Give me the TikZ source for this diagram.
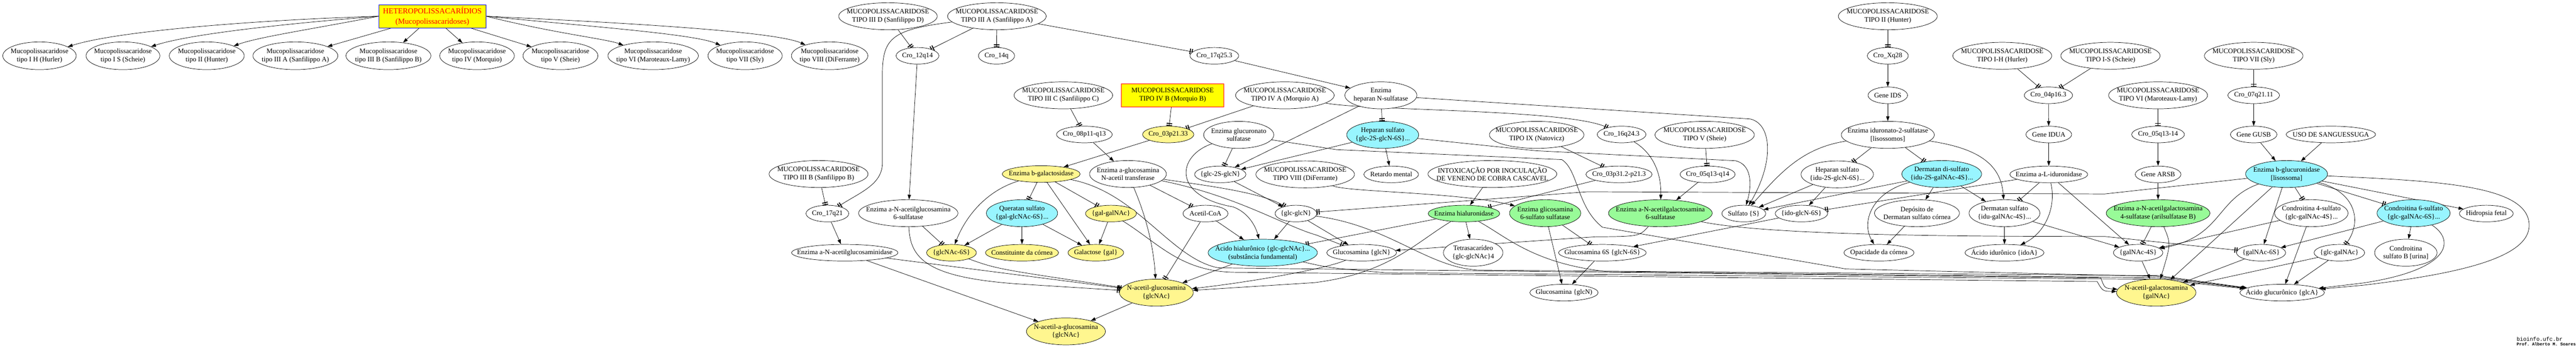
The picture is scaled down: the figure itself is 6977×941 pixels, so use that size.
\documentclass[tikz,border=0pt]{standalone}
\usepackage{fontspec}
\setmainfont{Liberation Serif}
\setmonofont{Liberation Mono}
\usepackage{tikz}
\usetikzlibrary{shapes.geometric,arrows.meta,backgrounds}
\definecolor{boxyellow}{RGB}{255,255,0}
\definecolor{molyellow}{RGB}{255,246,143}
\definecolor{molcyan}{RGB}{152,245,255}
\definecolor{molgreen}{RGB}{152,251,152}
\tikzstyle{gv node}=[ellipse,draw,line width=1pt,fill=white,inner xsep=-60pt,inner ysep=-12pt,minimum height=45pt,align=center,font=\fontsize{18.5}{22}\selectfont]
\tikzstyle{two lines}=[minimum height=73pt]
\tikzstyle{product node}=[fill=molyellow]
\tikzstyle{substrate node}=[fill=molcyan]
\tikzstyle{enzyme node}=[fill=molgreen]
\tikzstyle{title node}=[rectangle,draw=blue,fill=boxyellow,text=red,minimum height=63pt,font=\fontsize{21}{27}\selectfont]
\tikzstyle{morquio node}=[rectangle,draw=red,fill=boxyellow,minimum height=62pt]
\tikzstyle{gives edge}=[-{Triangle[length=13pt,width=9pt]},line width=1pt]
\tikzstyle{acts edge}=[-{Bar[width=15pt,line width=2.5pt,sep=3pt]Bar[width=15pt,line width=2.5pt]},line width=1pt]
\newcommand{\gvnode}[5][]{
  \node [gv node, anchor=center, minimum width=#4pt, #1] (#2) at (#3) {#5}
}

\begin{document}
\begin{tikzpicture}[x=1pt,y=-1pt]
\useasboundingbox (0,0) rectangle (6977,941);
        \gvnode[title node]{hetero}{1171,44}{291}{HETEROPOLISSACARÍDIOS\\(Mucopolissacaridoses)};
        \gvnode[minimum height=75pt]{tIH}{107,151}{199}{Mucopolissacaridose\\tipo I H (Hurler)};
        \gvnode[minimum height=75pt]{tIS}{333,151}{200}{Mucopolissacaridose\\tipo I S (Scheie)};
        \gvnode[minimum height=75pt]{tII}{560,151}{203}{Mucopolissacaridose\\tipo II (Hunter)};
        \gvnode[minimum height=75pt]{tIIIA}{800,151}{230}{Mucopolissacaridose\\tipo III A (Sanfilippo A)};
        \gvnode[minimum height=75pt]{tIIIB}{1052,151}{230}{Mucopolissacaridose\\tipo III B (Sanfilippo B)};
        \gvnode[minimum height=75pt]{tIV}{1292,151}{202}{Mucopolissacaridose\\tipo IV (Morquio)};
        \gvnode[minimum height=75pt]{tV}{1518,151}{203}{Mucopolissacaridose\\tipo V (Sheie)};
        \gvnode[minimum height=75pt]{tVI}{1769,151}{245}{Mucopolissacaridose\\tipo VI (Maroteaux-Lamy)};
        \gvnode[minimum height=75pt]{tVII}{2018,151}{201}{Mucopolissacaridose\\tipo VII (Sly)};
        \gvnode[minimum height=75pt]{tVIII}{2247,151}{207}{Mucopolissacaridose\\tipo VIII (DiFerrante)};

        \gvnode[two lines]{m3d}{2405,44}{267}{MUCOPOLISSACARIDOSE\\TIPO III D (Sanfilippo D)};
        \gvnode[two lines]{m3a}{2700,44}{267}{MUCOPOLISSACARIDOSE\\TIPO III A (Sanfilippo A)};
        \gvnode[two lines]{m3b}{2217,471}{268}{MUCOPOLISSACARIDOSE\\TIPO III B (Sanfilippo B)};
        \gvnode[two lines]{m3c}{2880,258}{267}{MUCOPOLISSACARIDOSE\\TIPO III C (Sanfilippo C)};
        \gvnode[morquio node]{m4b}{3176,258}{278}{MUCOPOLISSACARIDOSE\\TIPO IV B (Morquio B)};
        \gvnode[two lines]{m4a}{3480,258}{267}{MUCOPOLISSACARIDOSE\\TIPO IV A (Morquio A)};
        \gvnode[two lines]{m8}{3535,472}{267}{MUCOPOLISSACARIDOSE\\TIPO VIII (DiFerrante)};
        \gvnode[two lines]{m9}{4162,365}{256}{MUCOPOLISSACARIDOSE\\TIPO IX (Natovicz)};
        \gvnode[two lines]{m5}{4617,365}{269}{MUCOPOLISSACARIDOSE\\TIPO V (Sheie)};
        \gvnode[two lines]{m2}{5113,44}{268}{MUCOPOLISSACARIDOSE\\TIPO II (Hunter)};
        \gvnode[two lines]{m1h}{5423,151}{268}{MUCOPOLISSACARIDOSE\\TIPO I-H (Hurler)};
        \gvnode[two lines]{m1s}{5716,151}{269}{MUCOPOLISSACARIDOSE\\TIPO I-S (Scheie)};
        \gvnode[two lines]{m6}{5845,258}{268}{MUCOPOLISSACARIDOSE\\TIPO VI (Maroteaux-Lamy)};
        \gvnode[two lines]{m7}{6104,151}{267}{MUCOPOLISSACARIDOSE\\TIPO VII (Sly)};

        \gvnode{c12q14}{2485,151}{116}{Cro\_12q14};
        \gvnode{c14q}{2699,151}{98}{Cro\_14q};
        \gvnode{c17q21}{2241,578}{116}{Cro\_17q21};
        \gvnode{c17q25}{3289,151}{132}{Cro\_17q25.3};
        \gvnode{c08p11}{2937,364}{151}{Cro\_08p11-q13};
        \gvnode[product node]{c03p21}{3164,364}{139}{Cro\_03p21.33};
        \gvnode{c16q24}{4392,364}{132}{Cro\_16q24.3};
        \gvnode{c03p31}{4385,472}{179}{Cro\_03p31.2-p21.3};
        \gvnode{c05q13a}{4625,472}{149}{Cro\_05q13-q14};
        \gvnode{cXq28}{5113,151}{111}{Cro\_Xq28};
        \gvnode{c04p16}{5548,258}{131}{Cro\_04p16.3};
        \gvnode{c05q13b}{5845,364}{143}{Cro\_05q13-14};
        \gvnode{c07q21}{6104,258}{140}{Cro\_07q21.11};

        \gvnode{gIDS}{5113,258}{107}{Gene IDS};
        \gvnode{gIDUA}{5549,364}{124}{Gene IDUA};
        \gvnode{gARSB}{5845,472}{124}{Gene ARSB};
        \gvnode{gGUSB}{6104,364}{126}{Gene GUSB};

        \gvnode[two lines]{eNAG6S}{2460,577}{269}{Enzima a-N-acetilglucosamina\\6-sulfatase};
        \gvnode{eNAGLU}{2288,684}{288}{Enzima a-N-acetilglucosaminidase};
        \gvnode[product node]{eBGAL}{2820,471}{211}{Enzima b-galactosidase};
        \gvnode[two lines]{eHGSNAT}{3055,471}{208}{Enzima a-glucosamina\\N-acetil transferase};
        \gvnode[two lines]{eGLCS}{3355,365}{190}{Enzima glucuronato\\sulfatase};
        \gvnode[two lines]{eSGSH}{3740,258}{195}{Enzima\\heparan N-sulfatase};
        \gvnode[enzyme node]{eHYAL}{3965,578}{194}{Enzima hialuronidase};
        \gvnode[two lines,enzyme node]{eG6S}{4185,577}{193}{Enzima glicosamina\\6-sulfato sulfatase};
        \gvnode[two lines,enzyme node]{eGALNS}{4497,577}{281}{Enzima a-N-acetilgalactosamina\\6-sulfatase};
        \gvnode[two lines]{eIDS}{5113,365}{252}{Enzima iduronato-2-sulfatase\\{[lisossomos]}};
        \gvnode{eIDUA}{5549,472}{211}{Enzima a-L-iduronidase};
        \gvnode[two lines,enzyme node]{eARSB}{5845,577}{281}{Enzima a-N-acetilgalactosamina\\4-sulfatase (arilsulfatase B)};
        \gvnode[two lines,substrate node]{eGUSB}{6193,471}{222}{Enzima b-glucuronidase\\{[lisossoma]}};

        \gvnode[two lines,substrate node]{sKS}{2768,577}{193}{Queratan sulfato\\\{gal-glcNAc-6S\}...};
        \gvnode[product node]{sGlcNAc6S}{2577,684}{135}{\{glcNAc-6S\}};
        \gvnode[product node]{sCornea}{2768,684}{198}{Constituinte da córnea};
        \gvnode[two lines,product node]{sNAaG}{2887,897}{214}{N-acetil-a-glucosamina\\\{glcNAc\}};
        \gvnode[product node]{sGalGalNAc}{3009,578}{138}{\{gal-galNAc\}};
        \gvnode[product node]{sGal}{2968,684}{151}{Galactose \{gal\}};
        \gvnode{sAcCoA}{3265,578}{122}{Acetil-CoA};
        \gvnode{sGlc2SGlcN}{3305,472}{139}{\{glc-2S-glcN\}};
        \gvnode{sGlcGlcN}{3510,578}{113}{\{glc-glcN\}};
        \gvnode[two lines,substrate node]{sHA}{3420,684}{296}{Ácido hialurônico \{glc-glcNAc\}...\\(substância fundamental)};
        \gvnode[two lines,product node]{sGlcNAc}{3132,792}{200}{N-acetil-glucosamina\\\{glcNAc\}};
        \gvnode[two lines,substrate node]{sHS1}{3745,365}{195}{Heparan sulfato\\\{glc-2S-glcN-6S\}...};
        \gvnode{sRetardo}{3768,472}{148}{Retardo mental};
        \gvnode[two lines]{sIntox}{4042,471}{349}{INTOXICAÇÃO POR INOCULAÇÃO\\DE VENENO DE COBRA CASCAVEL};
        \gvnode{sGlcN}{3688,684}{189}{Glucosamina \{glcN\}};
        \gvnode[two lines]{sTetra}{3990,684}{161}{Tetrasacarídeo\\\{glc-glcNAc\}4};
        \gvnode{sGlcN6S}{4340,684}{237}{Glucosamina 6S \{glcN-6S\}};
        \gvnode{sGlcN2}{4236,792}{185}{Glucosamina \{glcN)};
        \gvnode{sSulf}{4723,578}{119}{Sulfato \{S\}};
        \gvnode{sIdoGlcN6S}{4879,578}{142}{\{ido-glcN-6S\}};
        \gvnode[two lines]{sHS2}{4976,472}{196}{Heparan sulfato\\\{idu-2S-glcN-6S\}...};
        \gvnode[two lines,substrate node]{sDS2}{5259,471}{216}{Dermatan di-sulfato\\\{idu-2S-galNAc-4S\}...};
        \gvnode[two lines]{sDeposito}{5192,577}{230}{Depósito de\\Dermatan sulfato córnea};
        \gvnode[two lines]{sDS}{5429,577}{192}{Dermatan sulfato\\\{idu-galNAc-4S\}...};
        \gvnode{sOpac}{5089,684}{190}{Opacidade da córnea};
        \gvnode{sIdoA}{5429,684}{214}{Ácido idurônico \{idoA\}};
        \gvnode{sGalNAc4S}{5791,684}{134}{\{galNAc-4S\}};
        \gvnode[two lines,product node]{sGalNAc}{5840,792}{215}{N-acetil-galactosamina\\\{galNAc\}};
        \gvnode{sUso}{6313,364}{242}{USO DE SANGUESSUGA};
        \gvnode[two lines]{sCS4}{6260,577}{199}{Condroitina 4-sulfato\\\{glc-galNAc-4S\}...};
        \gvnode{sGalNAc6S}{6124,684}{133}{\{galNAc-6S\}};
        \gvnode{sGlcGalNAc}{6336,684}{137}{\{glc-galNAc\}};
        \gvnode{sGlcA}{6181,792}{229}{Ácido glucurônico \{glcA\}};
        \gvnode[two lines,substrate node]{sCS6}{6537,577}{198}{Condroitina 6-sulfato\\\{glc-galNAc-6S\}...};
        \gvnode{sHidrop}{6734,578}{146}{Hidropsia fetal};
        \gvnode[two lines]{sCSB}{6516,684}{169}{Condroitina\\sulfato B [urina]};

        \node [anchor=south west, align=left, inner sep=0pt, font=\ttfamily\fontsize{11.6}{13}\selectfont] (credit) at (6816,936) {{\fontsize{14.8}{13}\selectfont bioinfo.ufc.br}\\\textbf{Prof. Alberto M. Soares}};

\begin{scope}[on background layer]
            \draw[gives edge] (hetero.west) .. controls (750,52) and (330,80) .. (tIH);
            \draw[gives edge] (hetero.west) .. controls (800,62) and (520,90) .. (tIS);
            \draw[gives edge] (hetero.west) .. controls (850,78) and (700,100) .. (tII);
            \draw[gives edge] (hetero) -- (tIIIA);
            \draw[gives edge] (hetero) -- (tIIIB);
            \draw[gives edge] (hetero) -- (tIV);
            \draw[gives edge] (hetero) -- (tV);
            \draw[gives edge] (hetero.east) .. controls (1500,90) and (1640,105) .. (tVI);
            \draw[gives edge] (hetero.east) .. controls (1600,72) and (1880,92) .. (tVII);
            \draw[gives edge] (hetero.east) .. controls (1700,62) and (2100,85) .. (tVIII);

            \draw[acts edge] (m3d) -- (c12q14);
            \draw[acts edge] (m3a) -- (c12q14);
            \draw[acts edge] (m3a) -- (c14q);
            \draw[acts edge] (m3a) -- (c17q25);
            \draw[acts edge] (m3a) .. controls (2420,80) and (2390,100) .. (2390,200) -- (2390,440) .. controls (2390,500) and (2330,520) .. (c17q21);
            \draw[acts edge] (m3b) -- (c17q21);
            \draw[gives edge] (c12q14) -- (eNAG6S);
            \draw[gives edge] (c17q21) -- (eNAGLU);
            \draw[gives edge] (c17q25) -- (eSGSH);
            \draw[acts edge] (m3c) -- (c08p11);
            \draw[gives edge] (c08p11) -- (eHGSNAT);
            \draw[acts edge] (m4b) -- (c03p21);
            \draw[acts edge] (m4a) -- (c03p21);
            \draw[gives edge] (c03p21) -- (eBGAL);
            \draw[acts edge] (m4a) .. controls (3700,300) and (4250,295) .. (c16q24);
            \draw[gives edge] (c16q24) .. controls (4470,410) and (4500,460) .. (eGALNS);
            \draw[acts edge] (m5) -- (c05q13a);
            \draw[gives edge] (c05q13a) -- (eGALNS);
            \draw[acts edge] (m9) -- (c03p31);
            \draw[acts edge] (c03p31) -- (eHYAL);

            \draw[acts edge] (eNAG6S) -- (sGlcNAc6S);
            \draw[acts edge] (eNAG6S) .. controls (2465,700) and (2510,750) .. (2750,768) -- (sGlcNAc);
            \draw[gives edge] (eNAGLU) -- (sNAaG);
            \draw[acts edge] (eNAGLU) -- (sGlcNAc);
            \draw[gives edge] (sGlcNAc6S) .. controls (2700,728) .. (sGlcNAc);
            \draw[gives edge] (sGlcNAc) -- (sNAaG);
            \draw[acts edge] (eBGAL) -- (sKS);
            \draw[gives edge] (eBGAL) .. controls (2660,520) and (2610,600) .. (sGlcNAc6S);
            \draw[acts edge] (eBGAL) -- (sGalGalNAc);
            \draw[gives edge] (eBGAL) -- (sGal);
            \draw[gives edge] (eBGAL) .. controls (3080,520) and (3170,700) .. (3300,725) -- (5690,752) .. controls (5700,780) .. (sGalNAc);
            \draw[gives edge] (sKS) -- (sGlcNAc6S);
            \draw[gives edge] (sKS) -- (sCornea);
            \draw[gives edge] (sKS) -- (sGal);
            \draw[gives edge] (sGalGalNAc) -- (sGal);
            \draw[gives edge] (sGalGalNAc) .. controls (3140,660) and (3200,737) .. (3350,737) -- (5680,762) .. controls (5695,788) .. (sGalNAc);

            \draw[acts edge] (eHGSNAT) -- (sAcCoA);
            \draw[acts edge] (eHGSNAT) .. controls (3250,500) and (3420,520) .. (sGlcGlcN);
            \draw[acts edge] (eHGSNAT) .. controls (3350,530) and (3480,612) .. (3565,636) -- (sGlcN);
            \draw[gives edge] (eHGSNAT) .. controls (3110,600) and (3125,680) .. (sGlcNAc);
            \draw[acts edge] (sAcCoA) -- (sGlcNAc);
            \draw[gives edge] (sAcCoA) -- (sHA);
            \draw[gives edge] (sGlcGlcN) -- (sHA);
            \draw[gives edge] (sGlcGlcN) -- (sGlcN);
            \draw[gives edge] (sGlcGlcN) .. controls (3760,610) and (3860,720) .. (4000,731) -- (5845,746) -- (sGlcA);
            \draw[gives edge] (sHA) -- (sGlcNAc);
            \draw[gives edge] (sHA) .. controls (3600,725) .. (3750,738) -- (5840,756) -- (sGlcA);
            \draw[gives edge] (sGlcN) .. controls (3600,725) and (3400,762) .. (sGlcNAc);
            \draw[gives edge] (sGlc2SGlcN) -- (sGlcGlcN);
            \draw[acts edge] (eGLCS) -- (sGlc2SGlcN);
            \draw[gives edge] (eGLCS) .. controls (3190,420) and (3170,530) .. (3340,560) .. controls (3380,575) and (3400,610) .. (sHA);
            \draw[gives edge] (eGLCS) -- (3620,405) -- (4230,432) .. controls (4275,460) and (4270,560) .. (4340,615) -- (5000,728) -- (5840,748) -- (sGlcA);

            \draw[acts edge] (eSGSH) -- (sHS1);
            \draw[gives edge] (eSGSH) -- (sGlc2SGlcN);
            \draw[gives edge] (eSGSH) -- (4740,322) .. controls (4800,335) and (4805,440) .. (sSulf);
            \draw[gives edge] (sHS1) -- (sRetardo);
            \draw[gives edge] (sHS1) -- (sGlc2SGlcN);
            \draw[gives edge] (sHS1) -- (4160,408) -- (4700,435) .. controls (4745,445) and (4745,500) .. (sSulf);

            \draw[gives edge] (sIntox) -- (eHYAL);
            \draw[gives edge] (eHYAL) -- (sTetra);
            \draw[acts edge] (eHYAL) -- (sHA);
            \draw[gives edge] (eHYAL) .. controls (3830,660) and (3760,740) .. (3560,765) -- (sGlcNAc);
            \draw[gives edge] (eHYAL) .. controls (4080,640) and (4150,712) .. (4350,735) -- (5845,752) -- (sGlcA);
            \draw[gives edge] (m8) .. controls (3650,520) and (3950,520) .. (eG6S);
            \draw[gives edge] (eG6S) -- (sGlcN2);
            \draw[acts edge] (eG6S) -- (sGlcN6S);
            \draw[gives edge] (sGlcN6S) -- (sGlcN2);
            \draw[gives edge] (sIdoGlcN6S) -- (sGlcN6S);
            \draw[gives edge] (sHS2) -- (sIdoGlcN6S);
            \draw[gives edge] (sHS2) -- (sSulf);
            \draw[acts edge] (eGALNS) .. controls (4800,640) and (5400,640) .. (5700,640) -- (sGalNAc6S);
            \draw[gives edge] (eGALNS) .. controls (4440,640) .. (4320,641) -- (sGlcN);

            \draw[acts edge] (m2) -- (cXq28);
            \draw[gives edge] (cXq28) -- (gIDS);
            \draw[gives edge] (gIDS) -- (eIDS);
            \draw[acts edge] (eIDS) -- (sHS2);
            \draw[acts edge] (eIDS) -- (sDS2);
            \draw[gives edge] (eIDS) .. controls (5350,400) and (5420,440) .. (sDS);
            \draw[gives edge] (eIDS) .. controls (4880,400) and (4820,470) .. (sSulf);
            \draw[gives edge] (sDS2) -- (sDeposito);
            \draw[gives edge] (sDS2) -- (sDS);
            \draw[gives edge] (sDS2) .. controls (5070,520) and (5040,600) .. (sOpac);
            \draw[gives edge] (sDS2) -- (sSulf);
            \draw[gives edge] (sDeposito) -- (sOpac);
            \draw[gives edge] (sDS) -- (sIdoA);
            \draw[gives edge] (sDS) -- (sGalNAc4S);

            \draw[acts edge] (m1h) -- (c04p16);
            \draw[acts edge] (m1s) -- (c04p16);
            \draw[gives edge] (c04p16) -- (gIDUA);
            \draw[gives edge] (gIDUA) -- (eIDUA);
            \draw[acts edge] (eIDUA) -- (sDS);
            \draw[gives edge] (eIDUA) .. controls (5570,560) and (5540,630) .. (sIdoA);
            \draw[gives edge] (eIDUA) -- (sGalNAc4S);
            \draw[acts edge] (eIDUA) -- (sIdoGlcN6S);

            \draw[acts edge] (m6) -- (c05q13b);
            \draw[gives edge] (c05q13b) -- (gARSB);
            \draw[gives edge] (gARSB) -- (eARSB);
            \draw[acts edge] (eARSB) -- (sGalNAc4S);
            \draw[gives edge] (eARSB) .. controls (5880,660) .. (sGalNAc);
            \draw[gives edge] (sGalNAc4S) -- (sGalNAc);

            \draw[acts edge] (m7) -- (c07q21);
            \draw[gives edge] (c07q21) -- (gGUSB);
            \draw[gives edge] (gGUSB) -- (eGUSB);
            \draw[gives edge] (sUso) -- (eGUSB);
            \draw[acts edge] (eGUSB) -- (sCS4);
            \draw[acts edge] (eGUSB) -- (sCS6);
            \draw[acts edge] (eGUSB) .. controls (6380,520) and (6400,600) .. (sGlcGalNAc);
            \draw[gives edge] (eGUSB) -- (sGalNAc6S);
            \draw[gives edge] (eGUSB) .. controls (6000,540) and (6020,640) .. (sGalNAc4S);
            \draw[gives edge] (eGUSB) -- (sGalNAc);
            \draw[gives edge] (eGUSB) -- (sHidrop);
            \draw[gives edge] (eGUSB) .. controls (6600,490) and (6850,500) .. (6850,610) .. controls (6850,700) and (6650,742) .. (6400,772) -- (sGlcA);
            \draw[acts edge] (eGUSB) -- (5700,525) -- (4300,519) -- (sGlcGlcN);
            \draw[gives edge] (sCS4) -- (sGlcA);
            \draw[gives edge] (sCS4) -- (sGalNAc4S);
            \draw[gives edge] (sCS6) -- (sCSB);
            \draw[gives edge] (sCS6) -- (sGalNAc6S);
            \draw[gives edge] (sCS6) .. controls (6650,650) and (6640,730) .. (6400,766) -- (sGlcA);
            \draw[gives edge] (sGalNAc6S) -- (sGalNAc);
            \draw[gives edge] (sGlcGalNAc) -- (sGlcA);
            \draw[gives edge] (sGlcGalNAc) -- (sGalNAc);
\end{scope}
\end{tikzpicture}
\end{document}
